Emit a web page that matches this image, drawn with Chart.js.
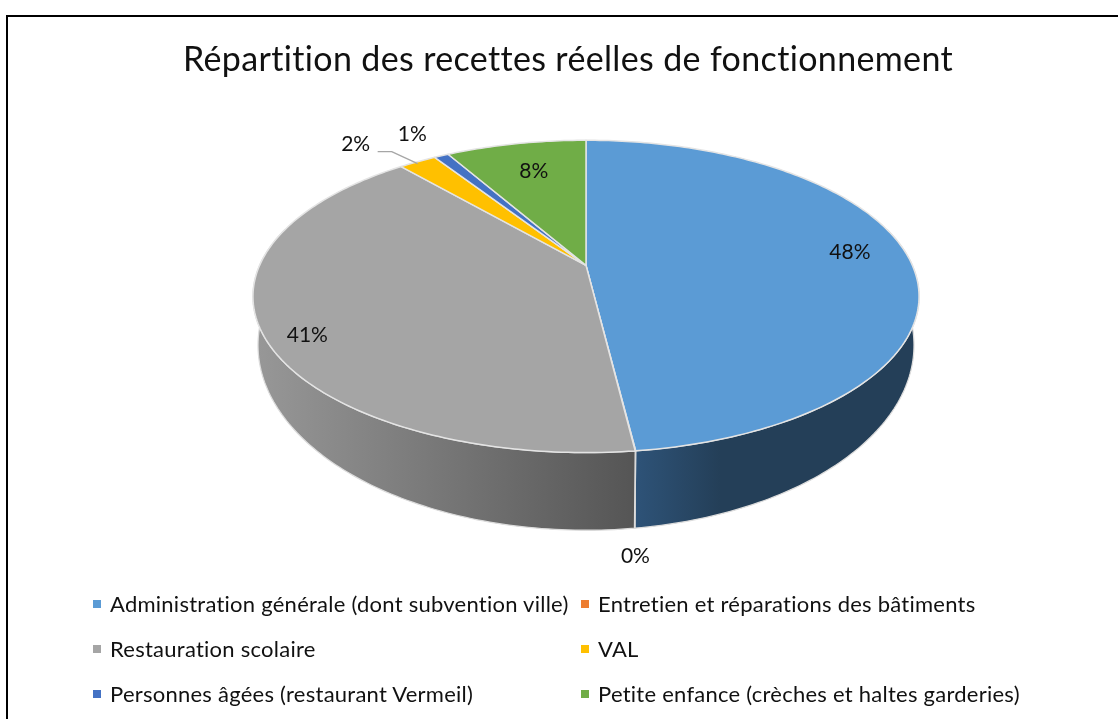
<!DOCTYPE html>
<html lang="fr">
<head>
  <meta charset="UTF-8" />
  <title>Répartition des recettes réelles de fonctionnement</title>
  <script src="https://cdn.jsdelivr.net/npm/chart.js"></script>
  <style>
    html, body { margin: 0; padding: 0; background: #fff; overflow: hidden; }
    #page { position: relative; width: 1118px; height: 719px; overflow: hidden; font-family: Lato, sans-serif; color: #111; }
    #frame { position: absolute; left: 6px; top: 15px; width: 1130px; height: 720px; border: 2px solid #000; box-sizing: border-box; }
    #wrap { position: absolute; left: 18px; top: 0; width: 1100px; height: 719px; }
    .key { position: absolute; font-size: 22px; letter-spacing: 0.25px; line-height: 24px; white-space: nowrap; }
    .key i { position: absolute; top: 8px; width: 8px; height: 8px; }
  </style>
</head>
<body>
<div id="page">
  <div id="frame"></div>
  <div id="wrap"><canvas id="pie"></canvas></div>
  <div id="legend"></div>
</div>

<script>
  const titleText = 'Répartition des recettes réelles de fonctionnement';
  const categories = [
    'Administration générale (dont subvention ville)',
    'Entretien et réparations des bâtiments',
    'Restauration scolaire',
    'VAL',
    'Personnes âgées (restaurant Vermeil)',
    'Petite enfance (crèches et haltes garderies)'
  ];
  const shares = [48.05, 0.02, 40.63, 2.2, 0.85, 8.25];
  const colors = ['#5b9bd5', '#ed7d31', '#a5a5a5', '#ffc000', '#4472c4', '#70ad47'];
  // side wall shading, left to right
  const wallColors = [
    ['#2e5378', '#243f58'], ['#8f4a1e', '#8f4a1e'], ['#989898', '#555555'],
    ['#997300', '#997300'], ['#294576', '#294576'], ['#43682b', '#43682b']
  ];
  // label offsets from the slice rim point
  const labelOffsets = [[-58, -4], [0, 105], [46, 4], [-62, -17], [-29, -22], [18, 27]];

  // perspective of the disc, in units of the arc radius
  const SX = 2.176, PERSP = -0.1987;
  // lower rim of the disc
  const LOW_SX = 2.143, LOW_SY = 1.185, LOW_DY = 43;
  // the disc sits right of the title centre
  const SHIFT_X = 18;

  function rim(el, t, low) {
    // t is the chart.js angle, -PI/2 at the top
    const x = Math.cos(t), y = Math.sin(t);
    const d = 1 + PERSP * y;
    const r = el.outerRadius;
    if (low) return [el.x + SHIFT_X + r * LOW_SX * x / d, el.y + LOW_DY + r * LOW_SY * y / d];
    return [el.x + SHIFT_X + r * SX * x / d, el.y + r * y / d];
  }

  function arcPoints(el, from, to, low) {
    const n = Math.max(2, Math.ceil(Math.abs(to - from) * 60));
    const pts = [];
    for (let i = 0; i <= n; i++) pts.push(rim(el, from + (to - from) * i / n, low));
    return pts;
  }

  const pie3d = {
    id: 'pie3d',
    beforeDraw(chart) {
      chart.ctx.letterSpacing = '0.35px';
    },
    beforeDatasetDraw(chart) {
      const ctx = chart.ctx;
      const arcs = chart.getDatasetMeta(0).data;

      // walls, only the part facing the viewer
      const wallFrom = -0.25, wallTo = Math.PI + 0.25;
      arcs.forEach((el, i) => {
        const a = Math.max(el.startAngle, wallFrom), b = Math.min(el.endAngle, wallTo);
        if (b <= a) return;
        const top = arcPoints(el, a, b, false), low = arcPoints(el, a, b, true);
        const xs = top.concat(low).map(p => p[0]);
        const grad = ctx.createLinearGradient(Math.min(...xs), 0, Math.max(...xs), 0);
        grad.addColorStop(0, wallColors[i][0]);
        grad.addColorStop(i === 0 ? 0.3 : 1, wallColors[i][1]);
        grad.addColorStop(1, wallColors[i][1]);
        ctx.beginPath();
        top.forEach((p, k) => k ? ctx.lineTo(p[0], p[1]) : ctx.moveTo(p[0], p[1]));
        low.reverse().forEach(p => ctx.lineTo(p[0], p[1]));
        ctx.closePath();
        ctx.fillStyle = grad;
        ctx.fill();
        ctx.strokeStyle = '#dcdcdc';
        ctx.lineWidth = 1.25;
        ctx.stroke();
      });

      // top face
      arcs.forEach(el => {
        const pts = arcPoints(el, el.startAngle, el.endAngle, false);
        ctx.beginPath();
        ctx.moveTo(el.x + SHIFT_X, el.y);
        pts.forEach(p => ctx.lineTo(p[0], p[1]));
        ctx.closePath();
        ctx.fillStyle = el.options.backgroundColor;
        ctx.fill();
        ctx.strokeStyle = el.options.borderColor;
        ctx.lineWidth = el.options.borderWidth;
        ctx.lineJoin = 'round';
        ctx.stroke();
      });
      return false;
    },
    afterDatasetsDraw(chart) {
      const ctx = chart.ctx;
      const arcs = chart.getDatasetMeta(0).data;
      ctx.save();
      ctx.letterSpacing = '0px';
      ctx.font = '21px Lato';
      ctx.fillStyle = '#111';
      ctx.textAlign = 'center';
      ctx.textBaseline = 'middle';
      arcs.forEach((el, i) => {
        const p = rim(el, (el.startAngle + el.endAngle) / 2, false);
        const lx = p[0] + labelOffsets[i][0], ly = p[1] + labelOffsets[i][1];
        ctx.fillText(Math.round(shares[i]) + '%', lx, ly);
        // VAL label sits outside, tied with a leader
        if (categories[i] === 'VAL') {
          ctx.beginPath();
          ctx.moveTo(lx + 22, ly + 7);
          ctx.lineTo(lx + 36, ly + 7);
          ctx.lineTo(p[0], p[1] + 2);
          ctx.strokeStyle = '#a6a6a6';
          ctx.lineWidth = 1.25;
          ctx.stroke();
        }
      });
      ctx.restore();
    }
  };

  new Chart(document.getElementById('pie'), {
    type: 'pie',
    data: {
      labels: categories,
      datasets: [{
        data: shares,
        backgroundColor: colors,
        borderColor: '#e4e4e4',
        borderWidth: 1.5,
        radius: 150
      }]
    },
    options: {
      responsive: true,
      maintainAspectRatio: false,
      animation: false,
      layout: { padding: { top: 0, bottom: 279 } },
      plugins: {
        legend: { display: false },
        tooltip: { enabled: false },
        title: {
          display: true,
          text: titleText,
          color: '#111',
          font: { family: 'Lato', size: 34, weight: 'normal' },
          padding: { top: 40, bottom: 10 }
        }
      }
    },
    plugins: [pie3d]
  });

  // legend in two columns, as in the original
  const legendEl = document.getElementById('legend');
  const colX = [93, 581], textGap = [17, 17], rowY = [592, 637, 682];
  categories.forEach((name, i) => {
    const col = i % 2, row = Math.floor(i / 2);
    const key = document.createElement('div');
    key.className = 'key';
    key.style.left = colX[col] + 'px';
    key.style.top = rowY[row] + 'px';
    key.style.paddingLeft = textGap[col] + 'px';
    key.innerHTML = `<i style="left:0;background:${colors[i]}"></i>${name}`;
    legendEl.appendChild(key);
  });
</script>
</body>
</html>
